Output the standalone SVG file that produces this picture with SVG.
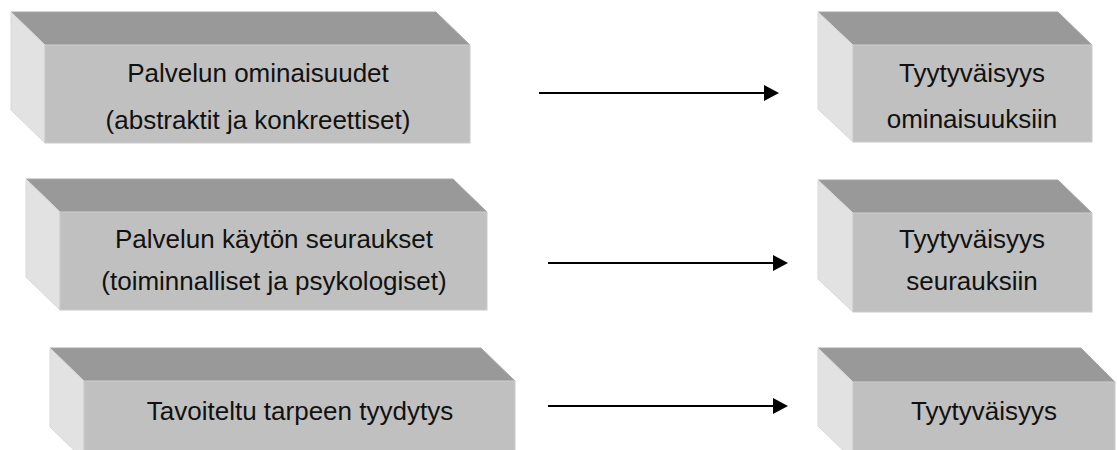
<svg xmlns="http://www.w3.org/2000/svg" width="1117" height="450" viewBox="0 0 1117 450">
<style>
.top{fill:#999999;stroke:#a8a8a8;stroke-width:1}
.side{fill:#e2e2e2;stroke:#d8d8d8;stroke-width:1}
.front{fill:#c0c0c0;stroke:#cacaca;stroke-width:1}
.t{font-family:"Liberation Sans",Arial,sans-serif;font-size:26px;fill:#111;text-anchor:middle}
.conn{stroke:#000;stroke-width:2;fill:none}
</style>
<defs>
<marker id="ah" markerUnits="userSpaceOnUse" viewBox="0 0 15 16" refX="0" refY="8" markerWidth="15" markerHeight="16" orient="auto">
<path d="M0,0 L15,8 L0,16 Z" fill="#000"/>
</marker>
</defs>
<rect width="1117" height="450" fill="#fff"/>

<g id="box-palvelun-ominaisuudet">
<polygon class="top" points="11,12 436,12 470,45 45,45"/>
<polygon class="side" points="11,12 45,45 45,143 11,110"/>
<rect class="front" x="45" y="45" width="425" height="98"/>
<text class="t" x="258" y="82">Palvelun ominaisuudet</text>
<text class="t" x="258" y="129">(abstraktit ja konkreettiset)</text>
</g>

<g id="box-palvelun-kayton-seuraukset">
<polygon class="top" points="26,179 453,179 487,212 60,212"/>
<polygon class="side" points="26,179 60,212 60,310 26,277"/>
<rect class="front" x="60" y="212" width="427" height="98"/>
<text class="t" x="274" y="248">Palvelun käytön seuraukset</text>
<text class="t" x="274" y="290">(toiminnalliset ja psykologiset)</text>
</g>

<g id="box-tavoiteltu">
<polygon class="top" points="50,348 481,348 515,381 84,381"/>
<polygon class="side" points="50,348 84,381 84,460 50,427"/>
<rect class="front" x="84" y="381" width="431" height="80"/>
<text class="t" x="300" y="420">Tavoiteltu tarpeen tyydytys</text>
</g>

<g id="box-tyytyvaisyys-ominaisuuksiin">
<polygon class="top" points="818,12 1058,12 1092,45 853,45"/>
<polygon class="side" points="818,12 853,45 853,142 818,109"/>
<rect class="front" x="853" y="45" width="239" height="97"/>
<text class="t" x="972" y="82">Tyytyväisyys</text>
<text class="t" x="972" y="128">ominaisuuksiin</text>
</g>

<g id="box-tyytyvaisyys-seurauksiin">
<polygon class="top" points="818,180 1058,180 1092,213 853,213"/>
<polygon class="side" points="818,180 853,213 853,312 818,279"/>
<rect class="front" x="853" y="213" width="239" height="99"/>
<text class="t" x="972" y="248">Tyytyväisyys</text>
<text class="t" x="972" y="290">seurauksiin</text>
</g>

<g id="box-tyytyvaisyys">
<polygon class="top" points="818,348 1081,348 1115,382 853,382"/>
<polygon class="side" points="818,348 853,382 853,460 818,426"/>
<rect class="front" x="853" y="382" width="262" height="80"/>
<text class="t" x="984" y="420">Tyytyväisyys</text>
</g>

<g id="connectors">
<line class="conn" x1="539" y1="93" x2="764" y2="93" marker-end="url(#ah)"/>
<line class="conn" x1="548" y1="263" x2="773" y2="263" marker-end="url(#ah)"/>
<line class="conn" x1="548" y1="406" x2="773" y2="406" marker-end="url(#ah)"/>
</g>
</svg>
